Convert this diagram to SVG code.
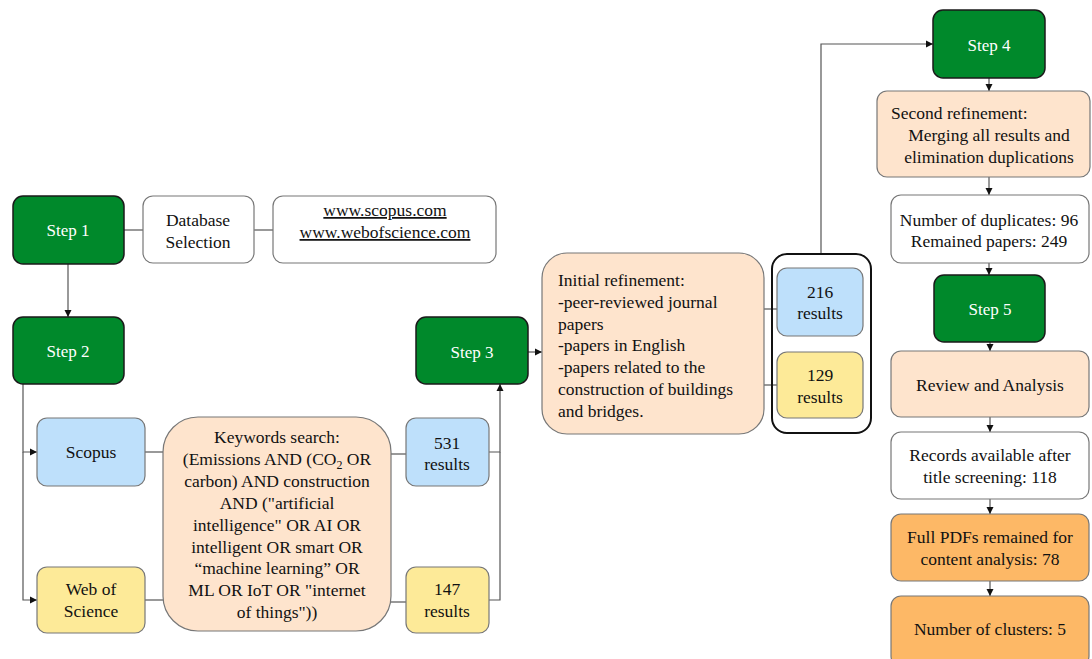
<svg xmlns="http://www.w3.org/2000/svg" width="1092" height="659" viewBox="0 0 1092 659">
<style>
text{font-family:"Liberation Serif","Times New Roman",serif;font-size:17.5px;fill:#111;text-anchor:middle}
.step rect{fill:#00892B;stroke:#1a1a1a;stroke-width:1.5}
.step text{fill:#fff;font-size:17px}
.white rect{fill:#fff;stroke:#777;stroke-width:1.2}
.blue rect{fill:#BEE0FB;stroke:#777;stroke-width:1.2}
.yellow rect{fill:#FDEA98;stroke:#777;stroke-width:1.2}
.peach rect{fill:#FEE4CD;stroke:#777;stroke-width:1.2}
.orange rect{fill:#FDB866;stroke:#777;stroke-width:1.2}
.conn path{fill:none;stroke:#555;stroke-width:1.2}
.u{text-decoration:underline}
</style>
<defs>
<marker id="ah" markerWidth="8" markerHeight="8" refX="7" refY="4" orient="auto" markerUnits="userSpaceOnUse">
<path d="M0,0.5 L7,4 L0,7.5 Z" fill="#111"/>
</marker>
</defs>
<g class="conn" id="connectors">
<path d="M68,264 V317" marker-end="url(#ah)"/>
<path d="M124,230 H143"/>
<path d="M254,230 H273"/>
<path d="M23,384 V452 H37" marker-end="url(#ah)"/>
<path d="M23,452 V600 H37" marker-end="url(#ah)"/>
<path d="M145,452 H163"/>
<path d="M145,600 H163"/>
<path d="M391,454 H406"/>
<path d="M391,602 H406"/>
<path d="M489,452 H500 V384" marker-end="url(#ah)"/>
<path d="M489,600 H500 V452"/>
<path d="M528,352 H542" marker-end="url(#ah)"/>
<path d="M764,309 H777"/>
<path d="M764,385 H777"/>
<path d="M821,254 V44 H933" marker-end="url(#ah)"/>
<path d="M989,78 V91" marker-end="url(#ah)"/>
<path d="M989,177 V195" marker-end="url(#ah)"/>
<path d="M989,263 V275" marker-end="url(#ah)"/>
<path d="M990,342 V351" marker-end="url(#ah)"/>
<path d="M990,417 V432" marker-end="url(#ah)"/>
<path d="M990,499 V514" marker-end="url(#ah)"/>
<path d="M990,581 V596" marker-end="url(#ah)"/>
</g>
<g id="step1" class="step"><rect x="13" y="196" width="111" height="68" rx="10"/><text x="68" y="236">Step 1</text></g>
<g id="dbsel" class="white"><rect x="143" y="196" width="111" height="67" rx="10"/><text x="198" y="226">Database</text><text x="198" y="248">Selection</text></g>
<g id="urls" class="white"><rect x="273" y="196" width="223" height="67" rx="10"/><text x="385" y="216" class="u">www.scopus.com</text><text x="385" y="238" class="u">www.webofscience.com</text></g>
<g id="step2" class="step"><rect x="13" y="317" width="111" height="67" rx="10"/><text x="68" y="357">Step 2</text></g>
<g id="scopus" class="blue"><rect x="37" y="418" width="108" height="68" rx="10"/><text x="91" y="458">Scopus</text></g>
<g id="wos" class="yellow"><rect x="37" y="567" width="108" height="66" rx="10"/><text x="91" y="595">Web of</text><text x="91" y="617">Science</text></g>
<g id="keywords" class="peach"><rect x="163" y="417" width="228" height="214" rx="35"/>
<text x="277" y="443">Keywords search:</text>
<text x="277" y="465">(Emissions AND (CO<tspan font-size="12" dy="4">2</tspan><tspan dy="-4"> OR</tspan></text>
<text x="277" y="487">carbon) AND construction</text>
<text x="277" y="509">AND ("artificial</text>
<text x="277" y="531">intelligence" OR AI OR</text>
<text x="277" y="553">intelligent OR smart OR</text>
<text x="277" y="574">“machine learning” OR</text>
<text x="277" y="596">ML OR IoT OR "internet</text>
<text x="277" y="618">of things"))</text>
</g>
<g id="r531" class="blue"><rect x="406" y="418" width="83" height="68" rx="10"/><text x="447" y="449">531</text><text x="447" y="470">results</text></g>
<g id="r147" class="yellow"><rect x="406" y="567" width="83" height="66" rx="10"/><text x="447" y="595">147</text><text x="447" y="617">results</text></g>
<g id="step3" class="step"><rect x="416" y="317" width="112" height="67" rx="10"/><text x="472" y="358">Step 3</text></g>
<g id="initial" class="peach"><rect x="542" y="253" width="222" height="181" rx="25"/>
<g style="text-anchor:start">
<text x="558" y="286" style="text-anchor:start">Initial refinement:</text>
<text x="558" y="308" style="text-anchor:start">-peer-reviewed journal</text>
<text x="558" y="330" style="text-anchor:start">papers</text>
<text x="558" y="351" style="text-anchor:start">-papers in English</text>
<text x="558" y="373" style="text-anchor:start">-papers related to the</text>
<text x="558" y="395" style="text-anchor:start">construction of buildings</text>
<text x="558" y="417" style="text-anchor:start">and bridges.</text>
</g>
</g>
<g id="frame"><rect x="772" y="254" width="99" height="179" rx="15" fill="none" stroke="#111" stroke-width="2"/></g>
<g id="r216" class="blue"><rect x="777" y="268" width="86" height="68" rx="10"/><text x="820" y="298">216</text><text x="820" y="319">results</text></g>
<g id="r129" class="yellow"><rect x="777" y="352" width="86" height="66" rx="10"/><text x="820" y="381">129</text><text x="820" y="403">results</text></g>
<g id="step4" class="step"><rect x="933" y="10" width="112" height="68" rx="10"/><text x="989" y="51">Step 4</text></g>
<g id="second" class="peach"><rect x="877" y="91" width="213" height="86" rx="10"/>
<text x="891" y="119" style="text-anchor:start">Second refinement:</text>
<text x="989" y="141">Merging all results and</text>
<text x="989" y="163">elimination duplications</text>
</g>
<g id="dups" class="white"><rect x="891" y="195" width="198" height="68" rx="10"/><text x="989" y="226">Number of duplicates: 96</text><text x="989" y="247">Remained papers: 249</text></g>
<g id="step5" class="step"><rect x="934" y="275" width="111" height="67" rx="10"/><text x="990" y="315">Step 5</text></g>
<g id="review" class="peach"><rect x="891" y="351" width="198" height="66" rx="10"/><text x="990" y="391">Review and Analysis</text></g>
<g id="records" class="white"><rect x="891" y="432" width="198" height="67" rx="10"/><text x="990" y="461">Records available after</text><text x="990" y="483">title screening: 118</text></g>
<g id="pdfs" class="orange"><rect x="891" y="514" width="198" height="67" rx="10"/><text x="990" y="543">Full PDFs remained for</text><text x="990" y="565">content analysis: 78</text></g>
<g id="clusters" class="orange"><rect x="891" y="596" width="198" height="70" rx="10"/><text x="990" y="635">Number of clusters: 5</text></g>
</svg>
